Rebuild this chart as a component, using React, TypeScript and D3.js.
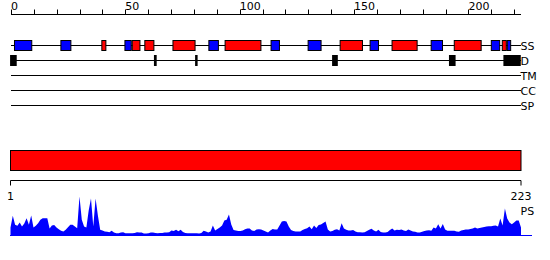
import React from "react";
import * as d3 from "d3";

const SEQ_LEN = 223;
const topTicksMajor = [0, 50, 100, 150, 200];
const topTicksMinor = [0, 10, 20, 30, 40, 50, 60, 70, 80, 90, 100, 110, 120, 130, 140, 150, 160, 170, 180, 190, 200, 210, 220];

// secondary structure: [start, end, type]  H = helix (red), E = strand (blue)
const ssStart = [1.3, 21.6, 39.5, 49.6, 52.8, 58.3, 70.6, 86.3, 93.4, 113.5, 129.7, 143.7, 156.8, 166.4, 183.5, 193.6, 209.8, 214.6, 216.8];
const ssEnd = [9.3, 26.4, 41.7, 52.8, 56.6, 62.7, 80.7, 90.9, 109.5, 117.6, 135.8, 153.9, 160.9, 177.8, 188.9, 205.8, 213.9, 216.8, 218.7];
const ssType = ["E", "E", "H", "E", "H", "H", "H", "E", "H", "E", "E", "H", "E", "H", "E", "H", "E", "H", "E"];

// disorder segments
const dStart = [-0.4, 62.5, 80.5, 140.4, 191.5, 215.3];
const dEnd = [2.5, 63.7, 81.6, 142.9, 194.4, 222.9];

const trackLabels = ["SS", "D", "TM", "CC", "SP"];

// domain bar
const domainStart = [1];
const domainEnd = [223];
const bottomTicks = [1, 223];

// per-residue profile score
const psValues = [
  8, 19.7, 10.7, 9.7, 13, 9, 12, 17.3, 10.7, 20,
  8, 9.7, 12.3, 15.7, 17.3, 17.3, 17.3, 7, 10, 10.5,
  8, 6.3, 4.7, 4, 5.7, 8.3, 10.7, 10.7, 9, 7.3,
  39, 15.7, 9, 8, 25, 37, 9, 37, 20, 5.7,
  5, 4, 3.7, 3.3, 4.7, 3, 2.3, 2.3, 3, 3.3,
  2.3, 2.3, 2.3, 2.3, 2.5, 3.3, 3, 3, 2, 2,
  2.3, 3, 3, 2.5, 2.3, 2.5, 2.5, 3, 3, 3.3,
  5, 4.5, 5.7, 4.3, 5.7, 3.5, 2.5, 2.3, 2.3, 2.3,
  2.3, 2.3, 2, 2.5, 4.7, 4, 3, 4, 10, 5,
  6.5, 8, 10, 15, 15.7, 21, 11, 5.5, 5, 4.5,
  4.5, 5, 6.3, 7, 7, 5, 4.5, 6, 6.3, 6,
  5, 4, 3, 5, 6.5, 6, 6, 10, 14, 14.5,
  14, 9, 5.5, 4.5, 4, 4, 4, 5.5, 6.5, 7.3,
  9, 6.3, 10, 7.5, 10.5, 11, 12.5, 14, 6, 4,
  4.5, 5.7, 6.3, 5, 12.3, 7, 5.7, 5, 5, 5.5,
  4, 3.3, 3.3, 3, 3.3, 4.5, 5.7, 6.7, 5, 4,
  5.7, 3.5, 3, 3, 3.5, 5.5, 7, 5, 5.7, 5.5,
  6, 5, 4.5, 6, 5, 4, 3.7, 3, 3, 3.7,
  4.5, 5, 5.3, 4.7, 8, 7, 11.3, 7, 11.5, 6,
  4.7, 4.7, 4.7, 4.7, 4, 3.7, 5, 5.5, 6, 6,
  6.5, 7, 8, 7, 7.5, 8, 8.5, 9, 9.3, 9.3,
  9.7, 10, 9, 17, 10, 27, 17, 13, 11.3, 13,
  15, 15, 8,
];

const FONT = "DejaVu Sans";

export default function App() {
  const x = d3.scaleLinear().domain([0, SEQ_LEN]).range([11, 521]);
  const xb = d3.scaleLinear().domain([1, SEQ_LEN]).range([10.5, 521]);
  const y = d3.scaleLinear().domain([0, 40]).range([235.5, 195.5]);
  const trackY = d3.scalePoint<string>().domain(trackLabels).range([45.5, 105.5]);

  const area = d3
    .area<number>()
    .x((_, i) => xb(i + 1))
    .y0(y(0))
    .y1((d) => y(d));

  const px = (v: number) => Math.round(v) + 0.5;

  return (
    <svg width={550} height={260} style={{ position: "absolute", left: 0, top: 0 }} fontFamily={FONT}>
      <rect width={550} height={260} fill="#fff" />
      {/* top axis */}
      <line x1={x(0)} x2={x(SEQ_LEN)} y1={14.5} y2={14.5} stroke="#000" />
      {topTicksMinor.map((t) => (
        <line key={t} x1={px(x(t))} x2={px(x(t))} y1={9.5} y2={14.5} stroke="#000" />
      ))}
      {topTicksMajor.map((t) => (
        <text key={t} x={x(t)} y={10} fontSize={11} fill="#000">
          {t}
        </text>
      ))}

      {/* track lines */}
      {trackLabels.map((l) => (
        <g key={l}>
          <line x1={x(0)} x2={x(SEQ_LEN)} y1={trackY(l)} y2={trackY(l)} stroke="#000" />
          <text x={520.5} y={(trackY(l) as number) + 4.5} fontSize={11} fill="#000">
            {l}
          </text>
        </g>
      ))}

      {/* secondary structure */}
      {ssStart.map((s, i) => (
        <rect
          key={i}
          x={x(s) + 0.5}
          y={40.5}
          width={x(ssEnd[i]) - x(s) - 1}
          height={10}
          fill={ssType[i] === "H" ? "#ff0000" : "#0000ff"}
          stroke="#000"
          strokeWidth={1}
        />
      ))}

      {/* disorder */}
      {dStart.map((s, i) => (
        <rect key={i} x={x(s)} y={55} width={x(dEnd[i]) - x(s)} height={11} fill="#000" />
      ))}

      {/* domain bar */}
      {domainStart.map((s, i) => (
        <rect
          key={i}
          x={xb(s)}
          y={150.5}
          width={xb(domainEnd[i]) - xb(s)}
          height={20}
          fill="#ff0000"
          stroke="#000"
          strokeWidth={1}
        />
      ))}

      {/* bottom axis */}
      <line x1={xb(1)} x2={xb(SEQ_LEN)} y1={180.5} y2={180.5} stroke="#000" />
      {bottomTicks.map((t) => (
        <g key={t}>
          <line x1={xb(t)} x2={xb(t)} y1={180.5} y2={185.5} stroke="#000" />
          <text x={xb(t)} y={200} fontSize={11} textAnchor="middle" fill="#000">
            {t}
          </text>
        </g>
      ))}

      {/* profile */}
      <path d={area(psValues) || ""} fill="#0000ff" />
      <line x1={10} x2={532} y1={235.5} y2={235.5} stroke="#0000ff" />
      <text x={520.5} y={215} fontSize={11} fill="#000">
        PS
      </text>
    </svg>
  );
}
